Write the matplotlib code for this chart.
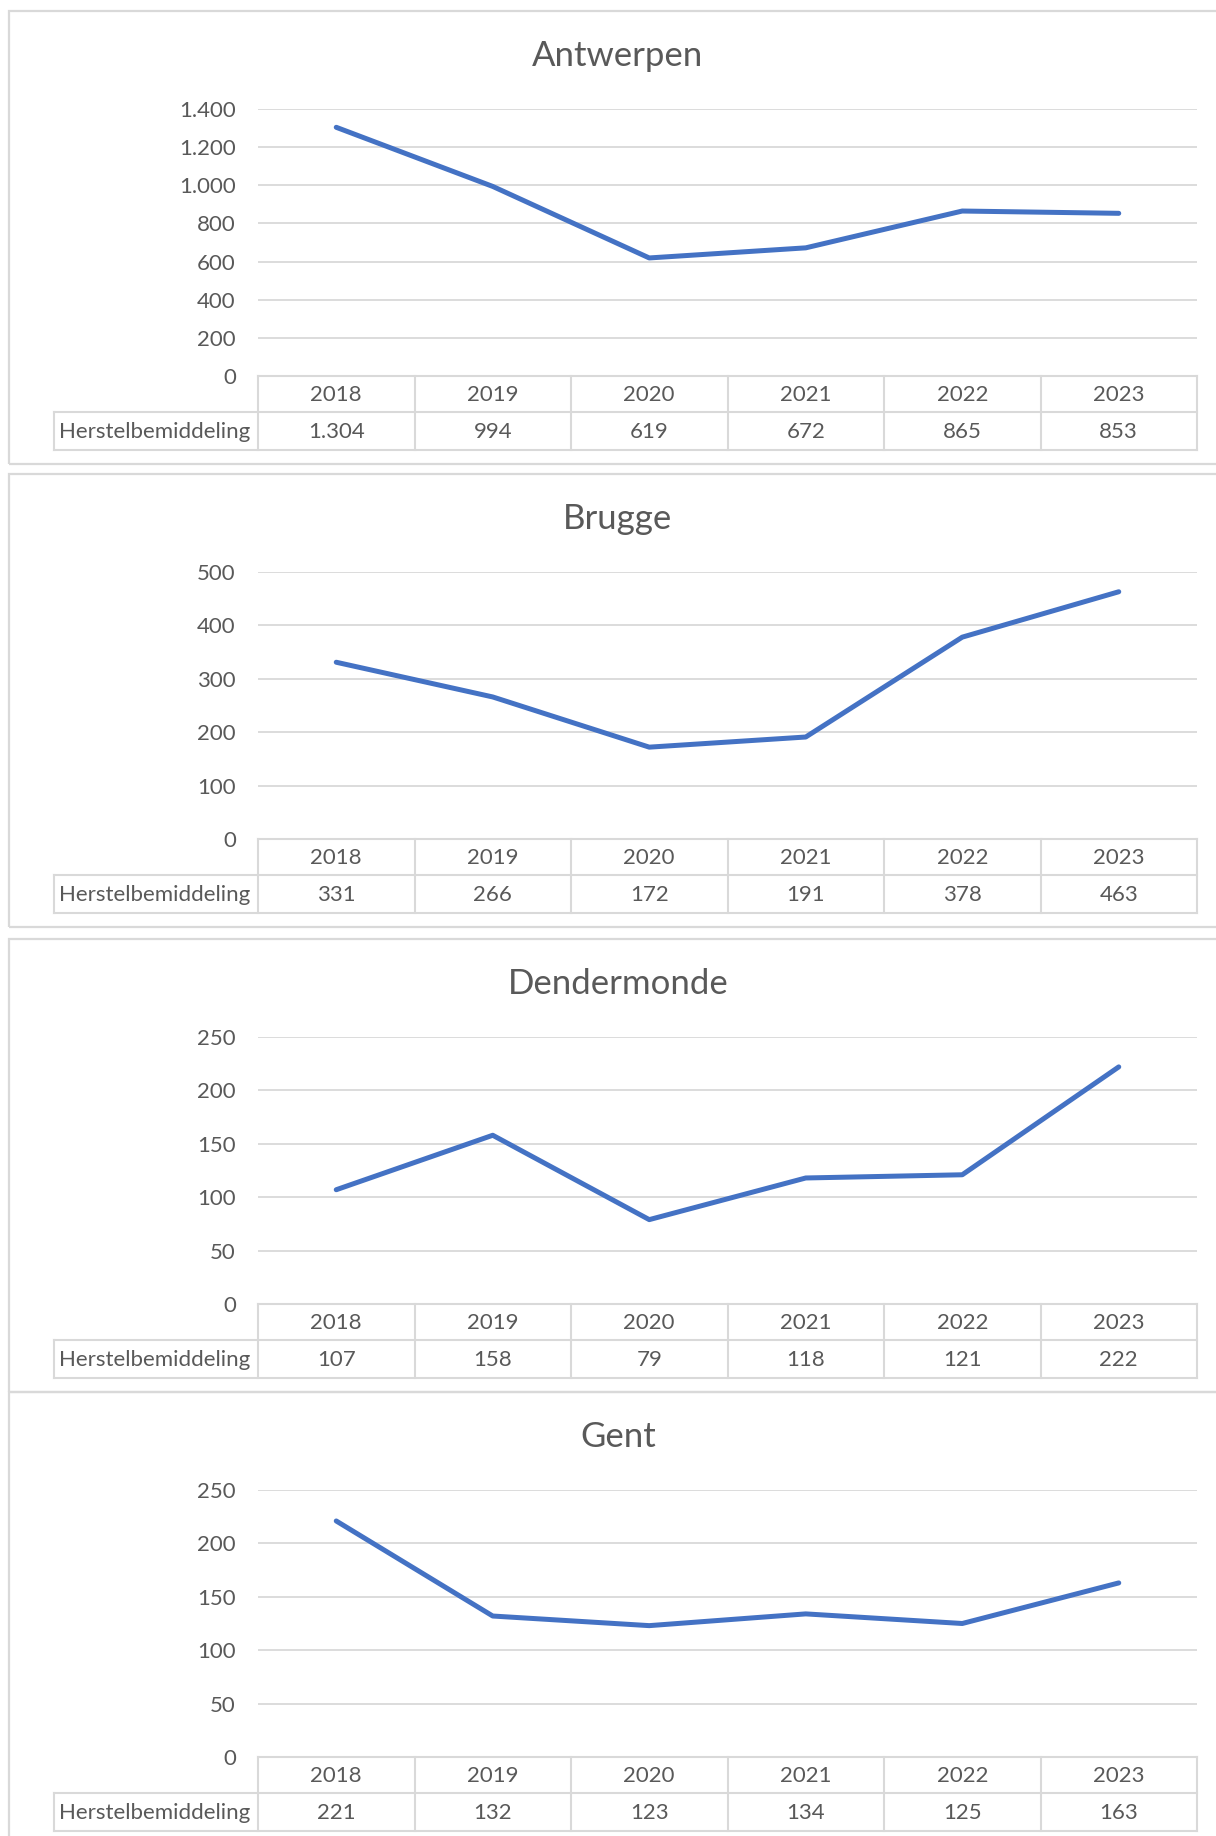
import matplotlib.pyplot as plt
from matplotlib.patches import Rectangle
from matplotlib.transforms import blended_transform_factory

plt.rcParams['font.family'] = ['Lato', 'DejaVu Sans']

years = ["2018", "2019", "2020", "2021", "2022", "2023"]
series_name = "Herstelbemiddeling"

cities = ["Antwerpen", "Brugge", "Dendermonde", "Gent"]
antwerpen = [1304, 994, 619, 672, 865, 853]
brugge = [331, 266, 172, 191, 378, 463]
dendermonde = [107, 158, 79, 118, 121, 222]
gent = [221, 132, 123, 134, 125, 163]
values = [antwerpen, brugge, dendermonde, gent]

# y-axis max and step per panel
y_max = [1400, 500, 250, 250]
y_step = [200, 100, 50, 50]

W, H = 1216, 1836
TEXT = "#595959"
GRID = "#D9D9D9"
LINE = "#4472C4"
panel_tops = [11, 474, 939, 1392]


def fmt(v):
    return f"{v:,}".replace(",", ".")


fig = plt.figure(figsize=(W / 100, H / 100), dpi=100)

for name, vals, ymax, step, top in zip(cities, values, y_max, y_step, panel_tops):
    # chart frame
    fig.add_artist(Rectangle((9 / W, 1 - (top + 453) / H), 1230 / W, 453 / H,
                             transform=fig.transFigure, fill=False,
                             edgecolor=GRID, lw=1.6))
    fig.text(618 / W, 1 - (top + 45) / H, name, ha="center", va="center",
             fontsize=25, color=TEXT)

    ax = fig.add_axes([258 / W, 1 - (top + 365) / H, 939 / W, 267 / H])
    x = list(range(len(years)))
    ax.plot(x, vals, color=LINE, lw=3.6, solid_capstyle="round",
            solid_joinstyle="round", zorder=3)
    ax.set_xlim(-0.5, len(years) - 0.5)
    ax.set_ylim(0, ymax)
    ticks = list(range(0, ymax + 1, step))
    ax.set_yticks(ticks)
    ax.set_yticklabels([fmt(t) for t in ticks])
    ax.set_xticks([])
    ax.tick_params(axis="y", length=0, pad=16, labelsize=16, labelcolor=TEXT)
    ax.yaxis.grid(True, color=GRID, lw=1.3)
    ax.set_axisbelow(True)
    for s in ax.spines.values():
        s.set_visible(False)

    # data table below the plot
    tr = blended_transform_factory(ax.transData, ax.transAxes)
    h1 = 36 / 267
    h2 = 74 / 267
    xl = -0.5 - 204 / 156.5
    kw = dict(color=GRID, lw=1.5, transform=tr, clip_on=False)
    ax.plot([-0.5, 5.5], [0, 0], **kw)
    ax.plot([xl, 5.5], [-h1, -h1], **kw)
    ax.plot([xl, 5.5], [-h2, -h2], **kw)
    ax.plot([xl, xl], [-h1, -h2], **kw)
    for i in range(len(years) + 1):
        ax.plot([i - 0.5, i - 0.5], [0, -h2], **kw)
    for i, (yr, v) in enumerate(zip(years, vals)):
        ax.text(i, -h1 / 2 - 0.004, yr, ha="center", va="center", fontsize=16,
                color=TEXT, transform=tr, clip_on=False)
        ax.text(i, -(h1 + h2) / 2 - 0.004, fmt(v), ha="center", va="center",
                fontsize=16, color=TEXT, transform=tr, clip_on=False)
    ax.text(xl + 0.035, -(h1 + h2) / 2 - 0.004, series_name, ha="left",
            va="center", fontsize=16, color=TEXT, transform=tr, clip_on=False)

fig.savefig("out.png", dpi=100, facecolor="white")
